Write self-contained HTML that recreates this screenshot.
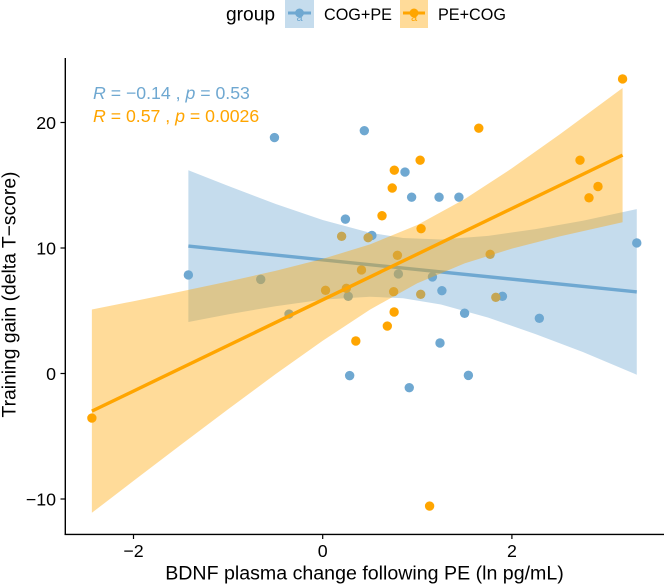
<!DOCTYPE html>
<html lang="en">
<head>
<meta charset="utf-8">
<title>BDNF plasma change vs training gain</title>
<style>
html,body{margin:0;padding:0;background:#fff;width:664px;height:585px;overflow:hidden}
svg{display:block;font-family:"Liberation Sans",Arial,sans-serif}
</style>
</head>
<body>
<svg id="chart" width="664" height="585" viewBox="0 0 664 585" xmlns="http://www.w3.org/2000/svg">
  <g id="pts"></g>
  <g id="smooth"></g>
  <g id="axes"></g>
  <text x="364.5" y="579.5" text-anchor="middle" font-size="19.6" fill="#000">BDNF plasma change following PE (ln pg/mL)</text>
  <text transform="translate(15.5,294.5) rotate(-90)" text-anchor="middle" font-size="19.3" fill="#000">Training gain (delta T−score)</text>
  <text x="93" y="99" font-size="17.7" fill="#6FA8D1"><tspan font-style="italic">R</tspan> = −0.14 , <tspan font-style="italic">p</tspan> = 0.53</text>
  <text x="93" y="122" font-size="17.7" fill="#FFA500"><tspan font-style="italic">R</tspan> = 0.57 , <tspan font-style="italic">p</tspan> = 0.0026</text>
  <g>
    <text x="226" y="20.5" font-size="19.2" fill="#000">group</text>
    <g>
      <rect x="285" y="0" width="29" height="28" fill="#6FA8D1" fill-opacity="0.4"/>
      <text x="299.5" y="21" text-anchor="middle" font-size="11" fill="#6FA8D1">a</text>
      <line x1="288" y1="13" x2="311" y2="13" stroke="#6FA8D1" stroke-width="3"/>
      <circle cx="299.5" cy="13" r="4.5" fill="#6FA8D1"/>
      <text x="324" y="20" font-size="16.2" fill="#000">COG+PE</text>
    </g>
    <g>
      <rect x="400" y="0" width="28" height="28" fill="#FFA500" fill-opacity="0.4"/>
      <text x="414" y="21" text-anchor="middle" font-size="11" fill="#FFA500">a</text>
      <line x1="403" y1="13" x2="425" y2="13" stroke="#FFA500" stroke-width="3"/>
      <circle cx="414" cy="13" r="4.5" fill="#FFA500"/>
      <text x="438" y="20" font-size="16.2" fill="#000">PE+COG</text>
    </g>
  </g>
</svg>
<script>
var xTicks = [-2, 0, 2];
var yTicks = [-10, 0, 10, 20];

var cogX = [-0.51, 0.44, 0.87, 0.94, 1.23, 1.44, 0.24, 0.52, -0.655, 0.8, 1.16, 1.26, 0.27, -0.356, 1.5, 1.9, 1.24, 0.285, 1.54, 0.915, 2.29, 3.32, -1.42];
var cogY = [18.8, 19.35, 16.05, 14.05, 14.05, 14.05, 12.3, 11.0, 7.5, 7.93, 7.7, 6.6, 6.15, 4.74, 4.8, 6.15, 2.43, -0.17, -0.15, -1.13, 4.4, 10.4, 7.85];

var peX = [1.03, 0.757, 0.735, 0.627, 1.04, 0.2, 0.48, 0.79, 0.41, 0.03, 0.25, 0.75, 1.036, 1.83, 0.755, 0.683, 0.35, 1.13, -2.44, 1.65, 3.17, 2.72, 2.91, 2.815, 1.77];
var peY = [17.0, 16.2, 14.78, 12.57, 11.54, 10.93, 10.82, 9.42, 8.25, 6.63, 6.79, 6.52, 6.31, 6.07, 4.9, 3.78, 2.59, -10.56, -3.55, 19.55, 23.47, 17.0, 14.9, 14.0, 9.5];

var cogBandX = [-1.42, -1, -0.5, 0, 0.5, 0.85, 1.25, 1.75, 2.25, 2.75, 3.32];
var cogBandUpper = [16.2, 14.95, 13.52, 12.23, 11.22, 10.8, 10.68, 10.97, 11.5, 12.17, 13.1];
var cogBandLower = [4.1, 4.71, 5.36, 5.89, 6.12, 6.0, 5.5, 4.45, 3.14, 1.71, -0.1];
var cogFitX = [-1.42, 3.32];
var cogFitY = [10.15, 6.5];

var peBandX = [-2.44, -2, -1.5, -1, -0.5, 0, 0.5, 1, 1.5, 2, 2.5, 3.17];
var peBandUpper = [5.1, 5.76, 6.53, 7.33, 8.18, 9.13, 10.29, 11.83, 13.89, 16.35, 19.02, 22.75];
var peBandLower = [-11.1, -8.56, -5.69, -2.85, -0.06, 2.61, 5.09, 7.19, 8.77, 9.95, 10.92, 12.05];
var peFitX = [-2.44, 3.17];
var peFitY = [-3.0, 17.4];

var NS = 'http://www.w3.org/2000/svg';
var BLUE = '#6FA8D1';
var ORANGE = '#FFA500';
function sx(v) { return 322.7 + 94.6 * v; }
function sy(v) { return 373.5 - 12.55 * v; }
function make(tag, parent, attrs) {
  var el = document.createElementNS(NS, tag);
  for (var k in attrs) el.setAttribute(k, attrs[k]);
  parent.appendChild(el);
  return el;
}
var ptsLayer = document.getElementById('pts');
var smoothLayer = document.getElementById('smooth');
var axesLayer = document.getElementById('axes');

cogX.forEach(function (x, i) {
  var c = make('circle', ptsLayer, { cx: sx(x), cy: sy(cogY[i]), r: 4.7, fill: BLUE });
  
  
});
peX.forEach(function (x, i) {
  var c = make('circle', ptsLayer, { cx: sx(x), cy: sy(peY[i]), r: 4.7, fill: ORANGE });
  
  
});

function bandPoints(xs, up, lo) {
  var a = [];
  xs.forEach(function (x, i) { a.push(sx(x) + ',' + sy(up[i])); });
  for (var i = xs.length - 1; i >= 0; i--) a.push(sx(xs[i]) + ',' + sy(lo[i]));
  return a.join(' ');
}
var cogBand = make('polygon', smoothLayer, { points: bandPoints(cogBandX, cogBandUpper, cogBandLower), fill: BLUE, 'fill-opacity': 0.4 });


var cogLine = make('line', smoothLayer, { x1: sx(cogFitX[0]), y1: sy(cogFitY[0]), x2: sx(cogFitX[1]), y2: sy(cogFitY[1]), stroke: BLUE, 'stroke-width': 3.4 });


var peBand = make('polygon', smoothLayer, { points: bandPoints(peBandX, peBandUpper, peBandLower), fill: ORANGE, 'fill-opacity': 0.4 });


var peLine = make('line', smoothLayer, { x1: sx(peFitX[0]), y1: sy(peFitY[0]), x2: sx(peFitX[1]), y2: sy(peFitY[1]), stroke: ORANGE, 'stroke-width': 3.4 });



var yAxis = make('line', axesLayer, { x1: 65.3, y1: 58, x2: 65.3, y2: 535, stroke: '#000', 'stroke-width': 1.4 });


var xAxis = make('line', axesLayer, { x1: 64.6, y1: 534.4, x2: 664, y2: 534.4, stroke: '#000', 'stroke-width': 1.4 });



function fmt(v) { return v < 0 ? '\u2212' + Math.abs(v) : String(v); }
xTicks.forEach(function (v) {
  var t = make('line', axesLayer, { x1: sx(v), y1: 534.4, x2: sx(v), y2: 539, stroke: '#000', 'stroke-width': 1.2 });
  
  
  var l = make('text', axesLayer, { x: sx(v), y: 557, 'text-anchor': 'middle', 'font-size': 17.8, fill: '#000' });
  
  
  l.textContent = fmt(v);
});
yTicks.forEach(function (v) {
  var t = make('line', axesLayer, { x1: 60.5, y1: sy(v), x2: 65, y2: sy(v), stroke: '#000', 'stroke-width': 1.2 });
  
  
  var l = make('text', axesLayer, { x: 56, y: sy(v) + 6.4, 'text-anchor': 'end', 'font-size': 17.8, fill: '#000' });
  
  
  l.textContent = fmt(v);
});
</script>
</body>
</html>
